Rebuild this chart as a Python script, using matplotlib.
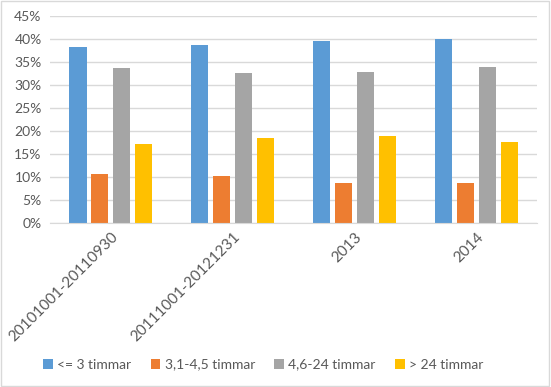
import numpy as np
import matplotlib
matplotlib.use("Agg")
from matplotlib import pyplot as plt
from matplotlib.patches import Rectangle

categories = ["20101001-20110930", "20111001-20121231", "2013", "2014"]
series_names = ["<= 3 timmar", "3,1-4,5 timmar", "4,6-24 timmar", "> 24 timmar"]
le3 = [38.3, 38.6, 39.6, 39.9]
s31_45 = [10.7, 10.3, 8.6, 8.6]
s46_24 = [33.7, 32.7, 32.9, 33.9]
gt24 = [17.2, 18.4, 18.8, 17.5]
colors = ["#5b9bd5", "#ed7d31", "#a5a5a5", "#ffc000"]

plt.rcParams['font.family'] = ['Lato', 'DejaVu Sans']
txt = "#595959"

fig = plt.figure(figsize=(5.51, 3.87), dpi=100)
fig.patches.append(Rectangle((0.002, 0.003), 0.995, 0.994, transform=fig.transFigure,
                             fill=False, edgecolor="#d9d9d9", linewidth=1))
ax = fig.add_axes([0.0907, 0.4238, 0.884, 0.535])

x = np.arange(len(categories))
w = 0.14
step = 0.18
for i, (vals, name) in enumerate(zip([le3, s31_45, s46_24, gt24], series_names)):
    ax.bar(x + (i - 1.5) * step, vals, width=w, color=colors[i], label=name, zorder=2)

ax.set_xlim(-0.5, 3.5)
ax.set_ylim(0, 45)
ax.set_yticks(np.arange(0, 46, 5))
ax.set_yticklabels([f"{v}%" for v in range(0, 46, 5)], fontsize=10, color=txt)
ax.yaxis.grid(True, color="#d9d9d9", linewidth=1, zorder=0)
ax.tick_params(axis='both', length=0)
ax.tick_params(axis='y', pad=6)
ax.tick_params(axis='x', pad=5)
ax.set_xticks(x)
ax.set_xticklabels(categories, rotation=45, ha='right', va='top',
                   rotation_mode='anchor', fontsize=11, color=txt)
for s in ["top", "right", "left"]:
    ax.spines[s].set_visible(False)
ax.spines["bottom"].set_color("#d9d9d9")

fig.legend(loc='center', bbox_to_anchor=(0.478, 0.058), ncol=4, frameon=False,
           fontsize=10, handlelength=0.7, handleheight=0.7, handletextpad=0.3,
           columnspacing=1.4, labelcolor=txt)

fig.savefig("out.png", dpi=100)
